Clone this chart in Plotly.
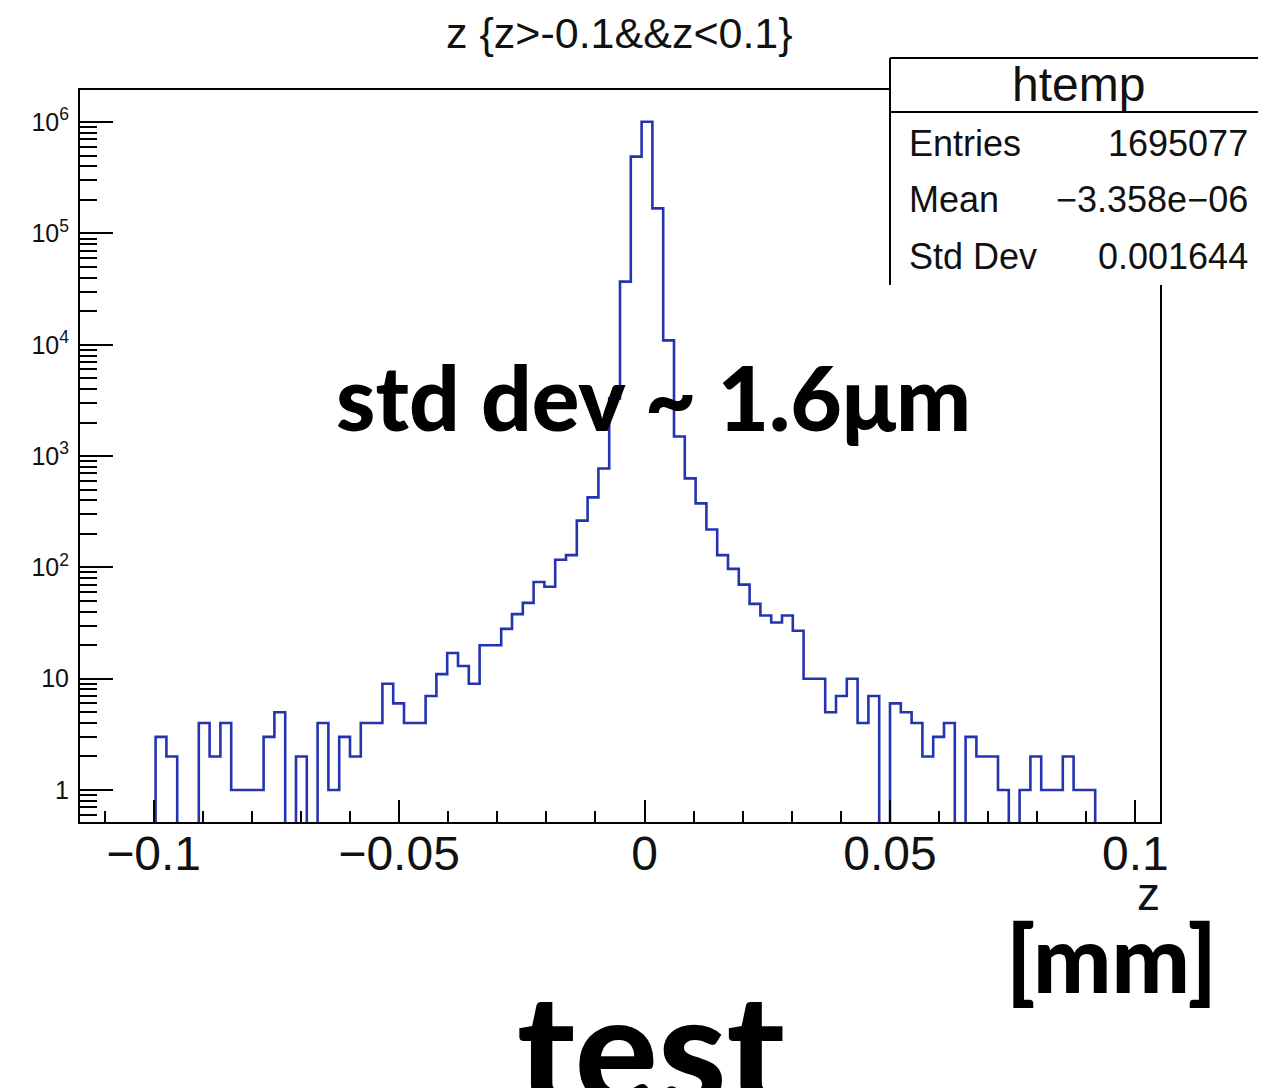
import numpy as np
import plotly.graph_objects as go

# ---------------- data ----------------
n_bins = 100
x_min, x_max = -0.115, 0.105
counts = [
    0, 0, 0, 0, 0, 0, 0, 3, 2, 0,
    0, 4, 2, 4, 1, 1, 1, 3, 5, 0,
    2, 0, 4, 1, 3, 2, 4, 4, 9, 6,
    4, 4, 7, 11, 17, 13, 9, 20, 20, 28,
    38, 48, 74, 67, 117, 129, 263, 426, 774, 3300,
    36900, 490000, 1010000, 168000, 10950, 1500, 630, 376, 219, 129,
    97, 70, 47, 37, 32, 37, 27, 10, 10, 5,
    7, 10, 4, 7, 0, 6, 5, 4, 2, 3,
    4, 0, 3, 2, 2, 1, 0, 1, 2, 1,
    1, 2, 1, 1, 0, 0, 0, 0, 0, 0,
]
x_tick_vals = [-0.1, -0.05, 0, 0.05, 0.1]
x_tick_text = ["\u22120.1", "\u22120.05", "0", "0.05", "0.1"]
y_tick_vals = [1, 10, 100, 1000, 10000, 100000, 1000000]
y_tick_text = ["1", "10", "10<sup>2</sup>", "10<sup>3</sup>", "10<sup>4</sup>",
               "10<sup>5</sup>", "10<sup>6</sup>"]
stats_name = "htemp"
stats_labels = ["Entries", "Mean", "Std Dev"]
stats_values = ["1695077", "\u22123.358e\u221206", "0.001644"]
title_text = "z {z>-0.1&amp;&amp;z&lt;0.1}"

# ---------------- layout geometry (screen pixels) ----------------
OFF = 8                      # page body margin
SW, SH = 1266, 1088          # screen size
W, H = SW - OFF, SH - OFF    # figure size
L, R, T, B = 80, 1160, 90, 822   # frame edges in screen pixels
Y_RANGE = [-0.2875, 6.289]


def px(x):
    return (x - L) / (R - L)


def py(y):
    return (B - y) / (B - T)


edges = np.linspace(x_min, x_max, n_bins + 1)
floor = 1e-3  # empty bins drop below the frame
vals = [c if c > 0 else floor for c in counts]
y_step = vals + [vals[-1]]

fig = go.Figure()
fig.add_trace(go.Scatter(
    x=edges, y=y_step, mode="lines", line_shape="hv",
    line=dict(color="#2433b0", width=2.6), hoverinfo="skip", showlegend=False,
))

axis_font = dict(family="Liberation Sans, Arial, sans-serif", color="#111")

fig.update_layout(
    width=W, height=H,
    margin=dict(l=L - OFF, r=SW - R, t=T - OFF, b=SH - B, pad=0),
    paper_bgcolor="white", plot_bgcolor="white",
    showlegend=False,
    xaxis=dict(
        range=[x_min, x_max], showgrid=False, zeroline=False,
        showline=True, linecolor="black", linewidth=2, mirror=True,
        tickmode="array", tickvals=x_tick_vals, ticktext=x_tick_text,
        ticks="inside", ticklen=22, tickwidth=2, tickcolor="black",
        minor=dict(ticks="inside", ticklen=11, tickwidth=2, tickcolor="black",
                   dtick=0.01, tick0=0, showgrid=False),
        tickfont=dict(size=48, **axis_font),
        ticklabelstandoff=-12,
    ),
    yaxis=dict(
        type="log", range=Y_RANGE, showgrid=False, zeroline=False,
        showline=True, linecolor="black", linewidth=2, mirror=True,
        tickmode="array", tickvals=y_tick_vals, ticktext=y_tick_text,
        ticks="inside", ticklen=33, tickwidth=2, tickcolor="black",
        minor=dict(ticks="inside", ticklen=17, tickwidth=2, tickcolor="black",
                   dtick="D1", showgrid=False),
        tickfont=dict(size=25, **axis_font),
        ticklabelstandoff=4,
    ),
)

# stats box
bx0, bx1, by0, by1, bsep = 890, 1275, 58, 285, 112
fig.add_shape(type="rect", xref="paper", yref="paper",
              x0=px(bx0), x1=px(bx1), y0=py(by1), y1=py(by0),
              fillcolor="white", line=dict(width=0), layer="above")
for (xa, ya, xb, yb) in [(bx0, by0, bx1, by0), (bx0, by0, bx0, by1), (bx0, bsep, bx1, bsep)]:
    fig.add_shape(type="line", xref="paper", yref="paper",
                  x0=px(xa), y0=py(ya), x1=px(xb), y1=py(yb),
                  line=dict(color="black", width=2), layer="above")

fig.add_annotation(text=stats_name, xref="paper", yref="paper",
                   x=px(1078), y=py(84), xanchor="center", yanchor="middle",
                   showarrow=False, font=dict(size=48, **axis_font))
row_y = [143, 199, 257]
for lab, val, yy in zip(stats_labels, stats_values, row_y):
    fig.add_annotation(text=lab, xref="paper", yref="paper",
                       x=px(907), y=py(yy), xanchor="left", yanchor="middle",
                       showarrow=False, font=dict(size=36, **axis_font))
    fig.add_annotation(text=val, xref="paper", yref="paper",
                       x=px(1250), y=py(yy), xanchor="right", yanchor="middle",
                       showarrow=False, font=dict(size=36, **axis_font))

# title
fig.add_annotation(text=title_text, xref="paper", yref="paper",
                   x=px(619), y=py(33), xanchor="center", yanchor="middle",
                   showarrow=False, font=dict(size=43, **axis_font))

# axis title "z"
fig.add_annotation(text="z", xref="paper", yref="paper",
                   x=px(1148), y=py(894), xanchor="center", yanchor="middle",
                   showarrow=False, font=dict(size=46, **axis_font))

bold_font = dict(family="Lato, Open Sans, sans-serif", color="black", weight=900)
fig.add_annotation(text="std dev ~ 1.6\u03bcm", xref="paper", yref="paper",
                   x=px(653), y=py(396), xanchor="center", yanchor="middle",
                   showarrow=False, font=dict(size=89, **bold_font))
fig.add_annotation(text="[mm]", xref="paper", yref="paper",
                   x=px(1111), y=py(957), xanchor="center", yanchor="middle",
                   showarrow=False, font=dict(size=93, **bold_font))
fig.add_annotation(text="test", xref="paper", yref="paper",
                   x=px(651), y=py(1046), xanchor="center", yanchor="middle",
                   showarrow=False, font=dict(size=155, **bold_font))

fig.write_html("out.html")
